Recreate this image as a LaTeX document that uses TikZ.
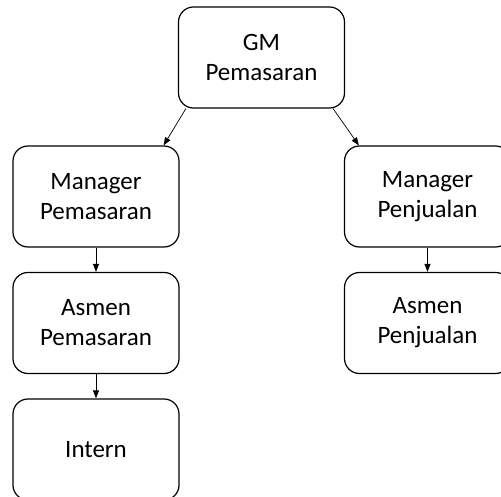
\documentclass[tikz,border=0pt]{standalone}
\usepackage{fontspec}
\setmainfont{Carlito}
\usetikzlibrary{arrows.meta,calc}

\tikzset{
    jabatan/.style={draw,line width=1.2pt,rounded corners=15pt,minimum width=166pt,minimum height=101pt,inner sep=0pt,align=center,font=\fontsize{25}{30}\selectfont},
    garis/.style={line width=0.7pt,-{Triangle[length=8pt,width=6pt]}}
}

\begin{document}
\begin{tikzpicture}[x=1pt,y=-1pt]
        \useasboundingbox (0,0) rectangle (501,497);
        \clip (0,0) rectangle (501,497);
        \node[jabatan] (gm) at (261.5,57.5) {GM\\Pemasaran};
        \node[jabatan] (mgrpms) at (96,196.5) {Manager\\Pemasaran};
        \node[jabatan] (mgrpjl) at (427.5,196.5) {Manager\\Penjualan};
        \node[jabatan] (asmpms) at (96,323) {Asmen\\Pemasaran};
        \node[jabatan] (asmpjl) at (427.5,323) {Asmen\\Penjualan};
        \node[jabatan] (intern) at (96,449.5) {Intern};
        \draw[garis] ($(gm.south west)+(8,0)$) -- ($(mgrpms.north east)+(-16,0)$);
        \draw[garis] ($(gm.south east)+(-12,0)$) -- ($(mgrpjl.north west)+(15,0)$);
        \draw[garis] (mgrpms.south) -- (asmpms.north);
        \draw[garis] (mgrpjl.south) -- (asmpjl.north);
        \draw[garis] (asmpms.south) -- (intern.north);
    \end{tikzpicture}
\end{document}
